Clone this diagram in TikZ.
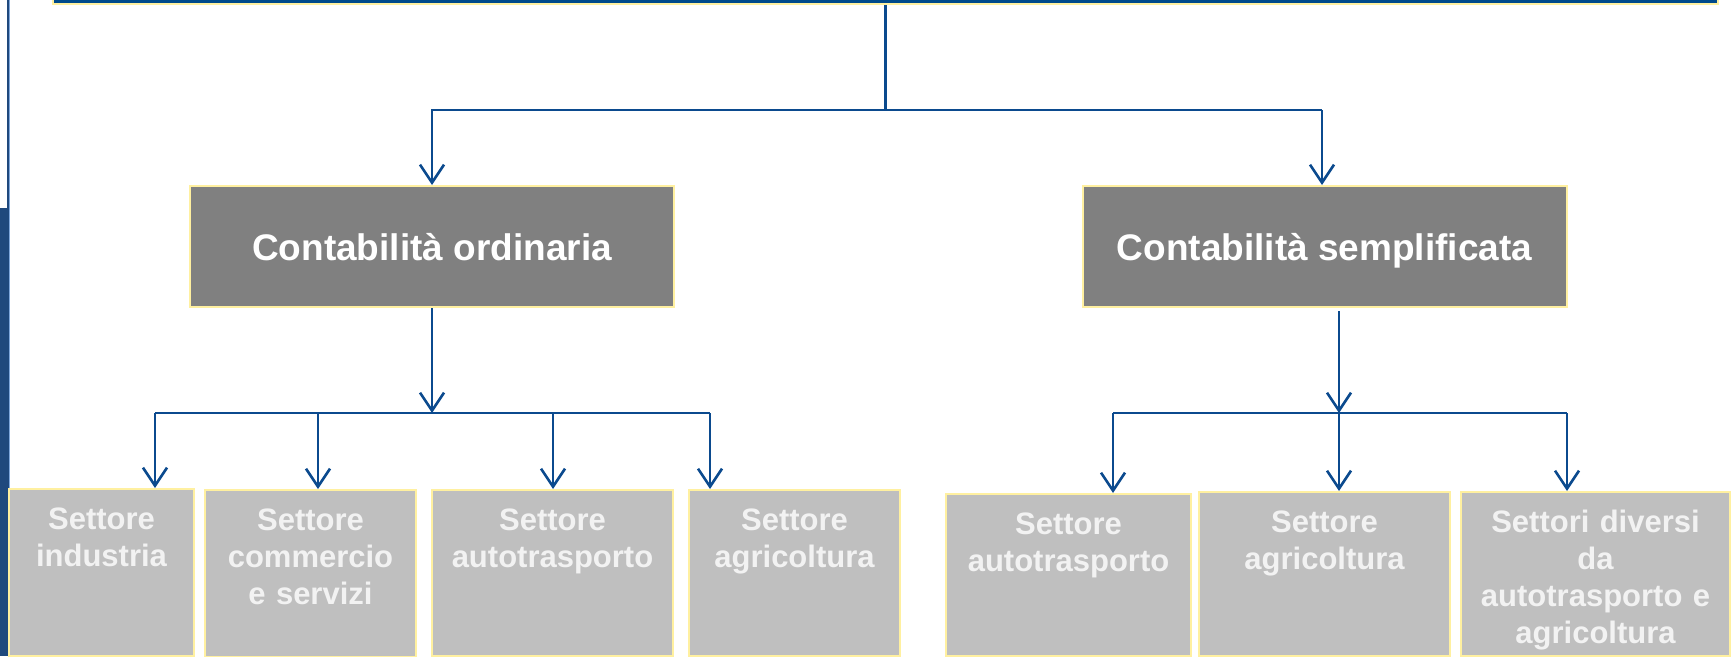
\documentclass[tikz,border=0pt]{standalone}
\usepackage{fontspec}
\setmainfont{Liberation Sans}
\usetikzlibrary{arrows.meta,positioning}
\definecolor{linkblue}{HTML}{0B4A8E}
\definecolor{topblue}{HTML}{004A8B}
\definecolor{sideblue}{HTML}{1F497D}
\definecolor{lightside}{HTML}{7FA8DC}
\definecolor{boxyellow}{HTML}{FFF0A0}
\definecolor{darkgrey}{HTML}{808080}
\definecolor{lightgrey}{HTML}{BFBFBF}
\definecolor{textwhite}{HTML}{F2F2F2}

\begin{document}
\begin{tikzpicture}[x=1pt,y=-1pt]

\tikzset{topnode/.style={fill=topblue,draw=boxyellow,line width=2pt,minimum width=1665pt,minimum height=60pt,inner sep=0pt},
mainnode/.style={fill=darkgrey,draw=boxyellow,line width=2pt,minimum width=484pt,minimum height=121pt,inner sep=0pt,text height=27pt,text depth=0pt,text=white,font=\fontsize{37}{44}\selectfont\bfseries},
subnode/.style 2 args={fill=lightgrey,draw=boxyellow,line width=2pt,anchor=north,inner sep=0pt,text width=#1,text height=40pt,text depth=#2,align=center,text=textwhite,font=\fontsize{31}{37}\selectfont\bfseries},
link/.style={draw=linkblue,line width=2.6pt},
arrowlink/.style={link,-{Straight Barb[length=18pt,width=24pt]}}}

\useasboundingbox (0,0) rectangle (1731,656);
\clip (0,0) rectangle (1731,656);

% Side bar
\draw[sideblue,line width=1.5pt] (8,0) -- (8,208);
\draw[lightside,line width=1.2pt] (9.6,0) -- (9.6,656);
\fill[sideblue] (0,208) rectangle (8.8,656);

% top box and the two kinds
\node[topnode,anchor=south] (top) at (885.5,5) {};
\node[mainnode] (ord) at (432,246.5) {Contabilità ordinaria};
\node[mainnode] (semp) at (1324.5,246.5) {Contabilità semplificata};

% sector nodes
\node[subnode={185pt}{127pt}] (ind) at (101.5,488) {Settore\\industria};
\node[subnode={211pt}{127pt}] (com) at (310.5,489) {Settore\\commercio\\e servizi};
\node[subnode={241pt}{126pt}] (autoL) at (552.5,489) {Settore\\autotrasporto};
\node[subnode={211pt}{126pt}] (agrL) at (794.5,489) {Settore\\agricoltura};
\node[subnode={245pt}{122pt}] (autoR) at (1068.5,493) {Settore\\autotrasporto};
\node[subnode={251pt}{124pt}] (agrR) at (1324.5,491) {Settore\\agricoltura};
\node[subnode={269pt}{124pt}] (div) at (1595.5,491) {Settori diversi\\da\\autotrasporto e\\agricoltura};

% bus points
\coordinate (tL) at (432,110); \coordinate (tR) at (1322,110);
\coordinate (bL1) at (155,413); \coordinate (bL2) at (318,413); \coordinate (bL3) at (553,413); \coordinate (bL4) at (710,413);
\coordinate (bR1) at (1113,413); \coordinate (bR2) at (1339,413); \coordinate (bR3) at (1567,413);

% Edges
\draw[link] (top.south) -- (top.south |- tL);
\draw[arrowlink] (tR) -- (tL) -- (ord.north);
\draw[arrowlink] (tR) -- (tR |- semp.north);

\draw[arrowlink] (ord.south) -- (ord.south |- bL1);
\draw[link] (bL1) -- (bL4);
\foreach \c/\n in {bL1/ind,bL2/com,bL3/autoL,bL4/agrL} \draw[arrowlink] (\c) -- (\c |- \n.north);

\draw[arrowlink] ([yshift=-3pt]bR2 |- semp.south) -- (bR2);
\draw[link] (bR1) -- (bR3);
\foreach \c/\n in {bR1/autoR,bR2/agrR,bR3/div} \draw[arrowlink] (\c) -- (\c |- \n.north);

\end{tikzpicture}
\end{document}
